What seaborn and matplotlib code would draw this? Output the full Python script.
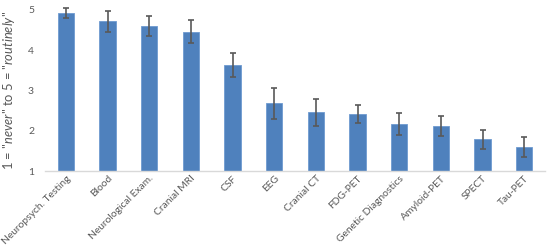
import matplotlib
matplotlib.use("Agg")
import matplotlib.pyplot as plt
import seaborn as sns
import pandas as pd

categories = ["Neuropsych. Testing", "Blood", "Neurological Exam.", "Cranial MRI", "CSF",
              "EEG", "Cranial CT", "FDG-PET", "Genetic Diagnostics", "Amyloid-PET",
              "SPECT", "Tau-PET"]
means = [4.92, 4.72, 4.61, 4.46, 3.63, 2.68, 2.46, 2.42, 2.17, 2.12, 1.79, 1.59]
errors = [0.12, 0.26, 0.25, 0.29, 0.29, 0.39, 0.33, 0.23, 0.28, 0.26, 0.23, 0.25]
yticks = [1, 2, 3, 4, 5]

sns.set_theme(style="white")
plt.rcParams['font.family'] = ['Lato', 'DejaVu Sans']
plt.rcParams['mathtext.fontset'] = 'custom'
plt.rcParams['mathtext.it'] = 'Lato:italic'
plt.rcParams['mathtext.rm'] = 'Lato'

df = pd.DataFrame({"cat": categories, "mean": means, "err": errors})

fig = plt.figure(figsize=(5.5, 2.48), dpi=100)
ax = fig.add_axes([0.082, 0.31, 0.909, 0.65])
sns.barplot(data=df, x="cat", y="mean", color="#4F81BD", saturation=1, width=0.39,
            edgecolor="#6F9AD0", linewidth=0.6, ax=ax, errorbar=None)
ax.errorbar(x=df["cat"], y=df["mean"], yerr=df["err"], fmt="none", ecolor="#595959",
            elinewidth=1.2, capsize=2.5, capthick=1.2, clip_on=False)
ax.set_ylim(1, 5)
ax.set_yticks(yticks)
ax.set_xlim(-0.5, len(categories) - 0.5)
ax.tick_params(axis="y", labelsize=7.5, colors="#595959", length=0, pad=8)
ax.tick_params(axis="x", labelsize=7.4, colors="#595959", length=0, pad=2)
for lbl in ax.get_xticklabels():
    lbl.set_rotation(45)
    lbl.set_ha("right")
    lbl.set_rotation_mode("anchor")
ax.set_xlabel("")
ax.set_ylabel('1 = "$\\it{never}$" to 5 = "$\\it{routinely}$"', fontsize=9.3, color="#595959",
              labelpad=8)
for s in ["top", "right", "left"]:
    ax.spines[s].set_visible(False)
ax.spines["bottom"].set_color("#D9D9D9")
ax.spines["bottom"].set_linewidth(1)
fig.savefig("out.png", dpi=100)
